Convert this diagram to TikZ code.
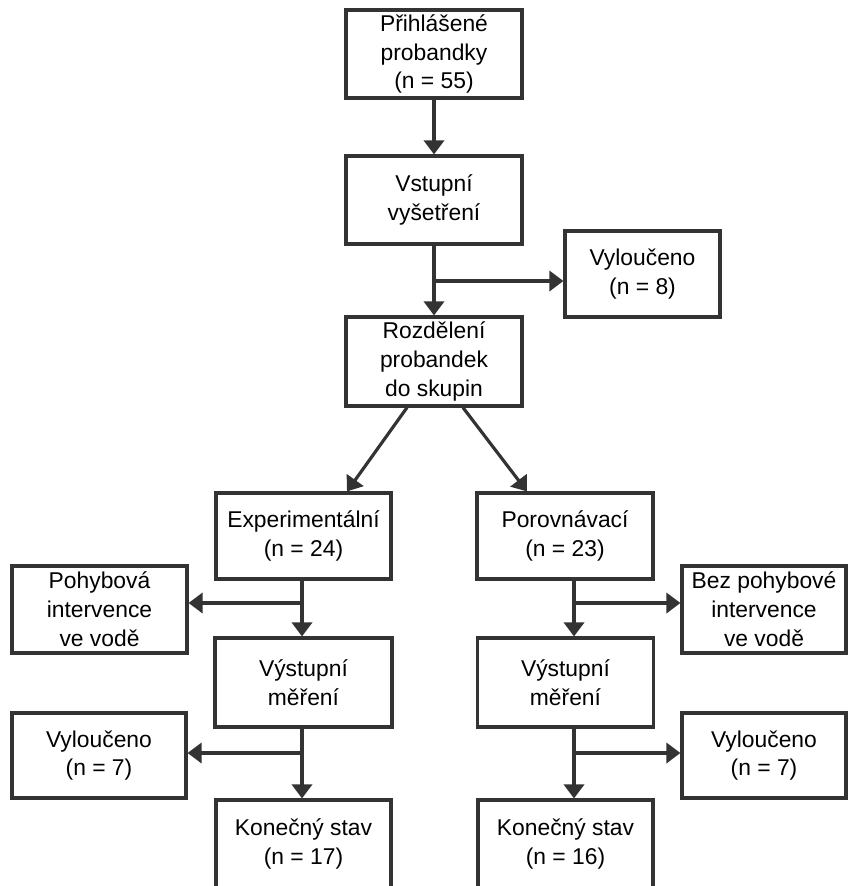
\documentclass[tikz,border=0pt]{standalone}
\usepackage{fontspec}
\setmainfont{Liberation Sans}
\usetikzlibrary{positioning,arrows.meta,calc}

\begin{document}
\begin{tikzpicture}[x=0.02cm, y=-0.02cm,
  flowbox/.style = {draw=black!80, line width=1.8pt, align=center, inner sep=0pt,
                    minimum width=3.5cm, minimum height=1.76cm,
                    font=\fontsize{13}{16.4}\selectfont},
  flowline/.style = {draw=black!80, line width=1.8pt},
  flowarrow/.style = {flowline, -{Triangle[length=8pt,width=11.5pt]}}]
\useasboundingbox (0,0) rectangle (849,886);
% main column
\node[flowbox, minimum width=3.52cm] (prihlasene) at (434,54) {Přihlášené\\probandky\\(n = 55)};
\node[flowbox, minimum width=3.52cm] (vstupni) at (434,200) {Vstupní\\vyšetření};
\node[flowbox, minimum width=3.1cm, minimum height=1.72cm] (vylouceno) at (642.5,274) {Vyloučeno\\(n = 8)};
\node[flowbox, minimum width=3.52cm, minimum height=1.78cm] (rozdeleni) at (434,361.5) {Rozdělení\\probandek\\do skupin};
% groups
\node[flowbox, minimum height=1.72cm] (exper) at (303.5,536) {Experimentální\\(n = 24)};
\node[flowbox, minimum width=3.52cm, minimum height=1.72cm] (porov) at (565,536) {Porovnávací\\(n = 23)};
\node[flowbox, minimum height=1.74cm] (pohyb) at (99.5,609.5) {Pohybová\\intervence\\ve vodě};
\node[flowbox, minimum width=3.28cm, minimum height=1.74cm] (bezpohyb) at (764,609.5) {Bez pohybové\\intervence\\ve vodě};
\node[flowbox, minimum width=3.54cm, minimum height=1.78cm] (vystupL) at (303.5,682.5) {Výstupní\\měření};
\node[flowbox, minimum width=3.52cm, minimum height=1.78cm] (vystupR) at (565.5,682.5) {Výstupní\\měření};
\node[flowbox, minimum width=3.48cm, minimum height=1.7cm] (vyloucL) at (99,755.5) {Vyloučeno\\(n = 7)};
\node[flowbox, minimum width=3.28cm, minimum height=1.7cm] (vyloucR) at (764,755.5) {Vyloučeno\\(n = 7)};
\node[flowbox] (konecL) at (303.5,844) {Konečný stav\\(n = 17)};
\node[flowbox] (konecR) at (565.5,844) {Konečný stav\\(n = 16)};
% branch points
\coordinate (split0) at (434,281);
\coordinate (splitL1) at (302,603);
\coordinate (splitR1) at (574,603);
\coordinate (splitL2) at (302,753);
\coordinate (splitR2) at (574,753);
% connectors
\draw[flowarrow] (prihlasene) -- (vstupni);
\draw[flowarrow] (vstupni.south) -- (rozdeleni.north);
\draw[flowarrow] (split0) -- (split0 -| vylouceno.west);
\draw[flowarrow] ($(rozdeleni.south)+(-27,0)$) -- ($(exper.north)+(43.5,0)$);
\draw[flowarrow] ($(rozdeleni.south)+(29,0)$) -- ($(porov.north)+(-38,0)$);
\draw[flowline] (exper.south -| splitL1) -- (splitL1);
\draw[flowarrow] (splitL1) -- (splitL1 |- vystupL.north);
\draw[flowarrow] (splitL1) -- (splitL1 -| pohyb.east);
\draw[flowline] (porov.south -| splitR1) -- (splitR1);
\draw[flowarrow] (splitR1) -- (splitR1 |- vystupR.north);
\draw[flowarrow] (splitR1) -- (splitR1 -| bezpohyb.west);
\draw[flowline] (vystupL.south -| splitL2) -- (splitL2);
\draw[flowarrow] (splitL2) -- (splitL2 |- konecL.north);
\draw[flowarrow] (splitL2) -- (splitL2 -| vyloucL.east);
\draw[flowline] (vystupR.south -| splitR2) -- (splitR2);
\draw[flowarrow] (splitR2) -- (splitR2 |- konecR.north);
\draw[flowarrow] (splitR2) -- (splitR2 -| vyloucR.west);
\end{tikzpicture}
\end{document}
